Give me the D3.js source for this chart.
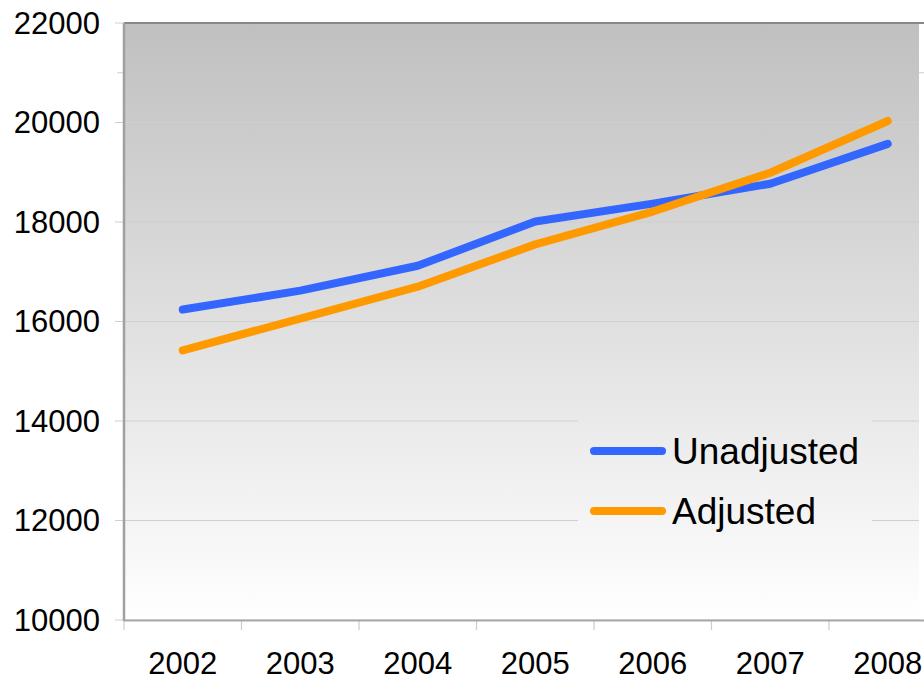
<!DOCTYPE html>
<html>
<head>
<meta charset="utf-8">
<script src="https://cdn.jsdelivr.net/npm/d3@7"></script>
<style>
  body { margin: 0; background: #fff; }
  svg { display: block; font-family: 'Liberation Sans', Arial, sans-serif; }
</style>
</head>
<body>
<script>
const years = ['2002', '2003', '2004', '2005', '2006', '2007', '2008']
const unadjusted = [16240, 16620, 17120, 18010, 18370, 18770, 19570]
const adjusted = [15420, 16060, 16700, 17550, 18210, 18990, 20030]
const yTicks = [10000, 12000, 14000, 16000, 18000, 20000, 22000]
const seriesNames = ['Unadjusted', 'Adjusted']
const seriesColors = ['#3366ff', '#ff9900']

const width = 924, height = 683
const margin = { top: 23, left: 124, bottom: 63 }
const plotRight = 946.5
const bgRight = 919

const svg = d3.select('body')
  .append('svg')
  .attr('width', width)
  .attr('height', height)

const x = d3.scaleBand()
  .domain(years)
  .range([margin.left, plotRight])

const y = d3.scaleLinear()
  .domain([10000, 22000])
  .range([height - margin.bottom, margin.top])

// gradient background
const grad = svg.append('defs')
  .append('linearGradient')
  .attr('id', 'bg')
  .attr('gradientUnits', 'userSpaceOnUse')
  .attr('x1', 0).attr('x2', 0)
  .attr('y1', y(22000)).attr('y2', y(10000))
grad.append('stop').attr('offset', '0%').attr('stop-color', '#c0c0c0')
grad.append('stop').attr('offset', '100%').attr('stop-color', '#ffffff')

// faint line that shows only outside the plot
svg.append('line')
  .attr('x1', margin.left - 7).attr('x2', width)
  .attr('y1', y(21000)).attr('y2', y(21000))
  .attr('stroke', '#cfcfcf')

svg.append('rect')
  .attr('x', margin.left)
  .attr('y', y(22000))
  .attr('width', bgRight - margin.left)
  .attr('height', y(10000) - y(22000))
  .attr('fill', 'url(#bg)')

// gridlines + left ticks
svg.append('g')
  .selectAll('line')
  .data(yTicks)
  .enter()
  .append('line')
  .attr('x1', margin.left - 9)
  .attr('x2', bgRight)
  .attr('y1', d => y(d))
  .attr('y2', d => y(d))
  .attr('stroke', '#d0d0d0')
  .attr('stroke-width', 1.2)

// y labels
svg.append('g')
  .selectAll('text')
  .data(yTicks)
  .enter()
  .append('text')
  .attr('x', 100)
  .attr('y', d => y(d))
  .attr('dy', '0.35em')
  .attr('text-anchor', 'end')
  .attr('font-size', 31)
  .text(d => d)

// x ticks
const bounds = years.map(d => x(d)).concat([plotRight])
svg.append('g')
  .selectAll('line')
  .data(bounds)
  .enter()
  .append('line')
  .attr('x1', d => d).attr('x2', d => d)
  .attr('y1', y(10000)).attr('y2', y(10000) + 10)
  .attr('stroke', '#cccccc')
  .attr('stroke-width', 1.2)

svg.append('g')
  .selectAll('text')
  .data(years)
  .enter()
  .append('text')
  .attr('x', d => x(d) + x.bandwidth() / 2)
  .attr('y', 663)
  .attr('dy', '0.35em')
  .attr('text-anchor', 'middle')
  .attr('font-size', 31)
  .text(d => d)

// frame
svg.append('line')
  .attr('x1', margin.left).attr('x2', width)
  .attr('y1', y(22000)).attr('y2', y(22000))
  .attr('stroke', '#888').attr('stroke-width', 2)
svg.append('line')
  .attr('x1', margin.left).attr('x2', margin.left)
  .attr('y1', y(22000)).attr('y2', y(10000) + 1)
  .attr('stroke', '#a0a0a0').attr('stroke-width', 2.5)
svg.append('line')
  .attr('x1', margin.left).attr('x2', width)
  .attr('y1', y(10000) + 0.5).attr('y2', y(10000) + 0.5)
  .attr('stroke', '#a8a8a8').attr('stroke-width', 2)

// series lines
const line = d3.line()
  .x((d, i) => x(years[i]) + x.bandwidth() / 2)
  .y(d => y(d))

svg.append('g')
  .selectAll('path')
  .data([unadjusted, adjusted])
  .enter()
  .append('path')
  .attr('d', line)
  .attr('fill', 'none')
  .attr('stroke', (d, i) => seriesColors[i])
  .attr('stroke-width', 8)
  .attr('stroke-linecap', 'round')
  .attr('stroke-linejoin', 'round')

// legend
const legend = svg.append('g').attr('id', 'legend')
legend.append('rect')
  .attr('x', 578).attr('y', 416)
  .attr('width', 294).attr('height', 126)
  .attr('fill', 'url(#bg)')

const items = legend.selectAll('g')
  .data(seriesNames)
  .enter()
  .append('g')
  .attr('transform', (d, i) => `translate(0, ${451 + i * 60})`)
items.append('line')
  .attr('x1', 594).attr('x2', 662)
  .attr('stroke', (d, i) => seriesColors[i])
  .attr('stroke-width', 8)
  .attr('stroke-linecap', 'round')
items.append('text')
  .attr('x', 672)
  .attr('dy', '0.35em')
  .attr('font-size', 37)
  .text(d => d)
</script>
</body>
</html>
